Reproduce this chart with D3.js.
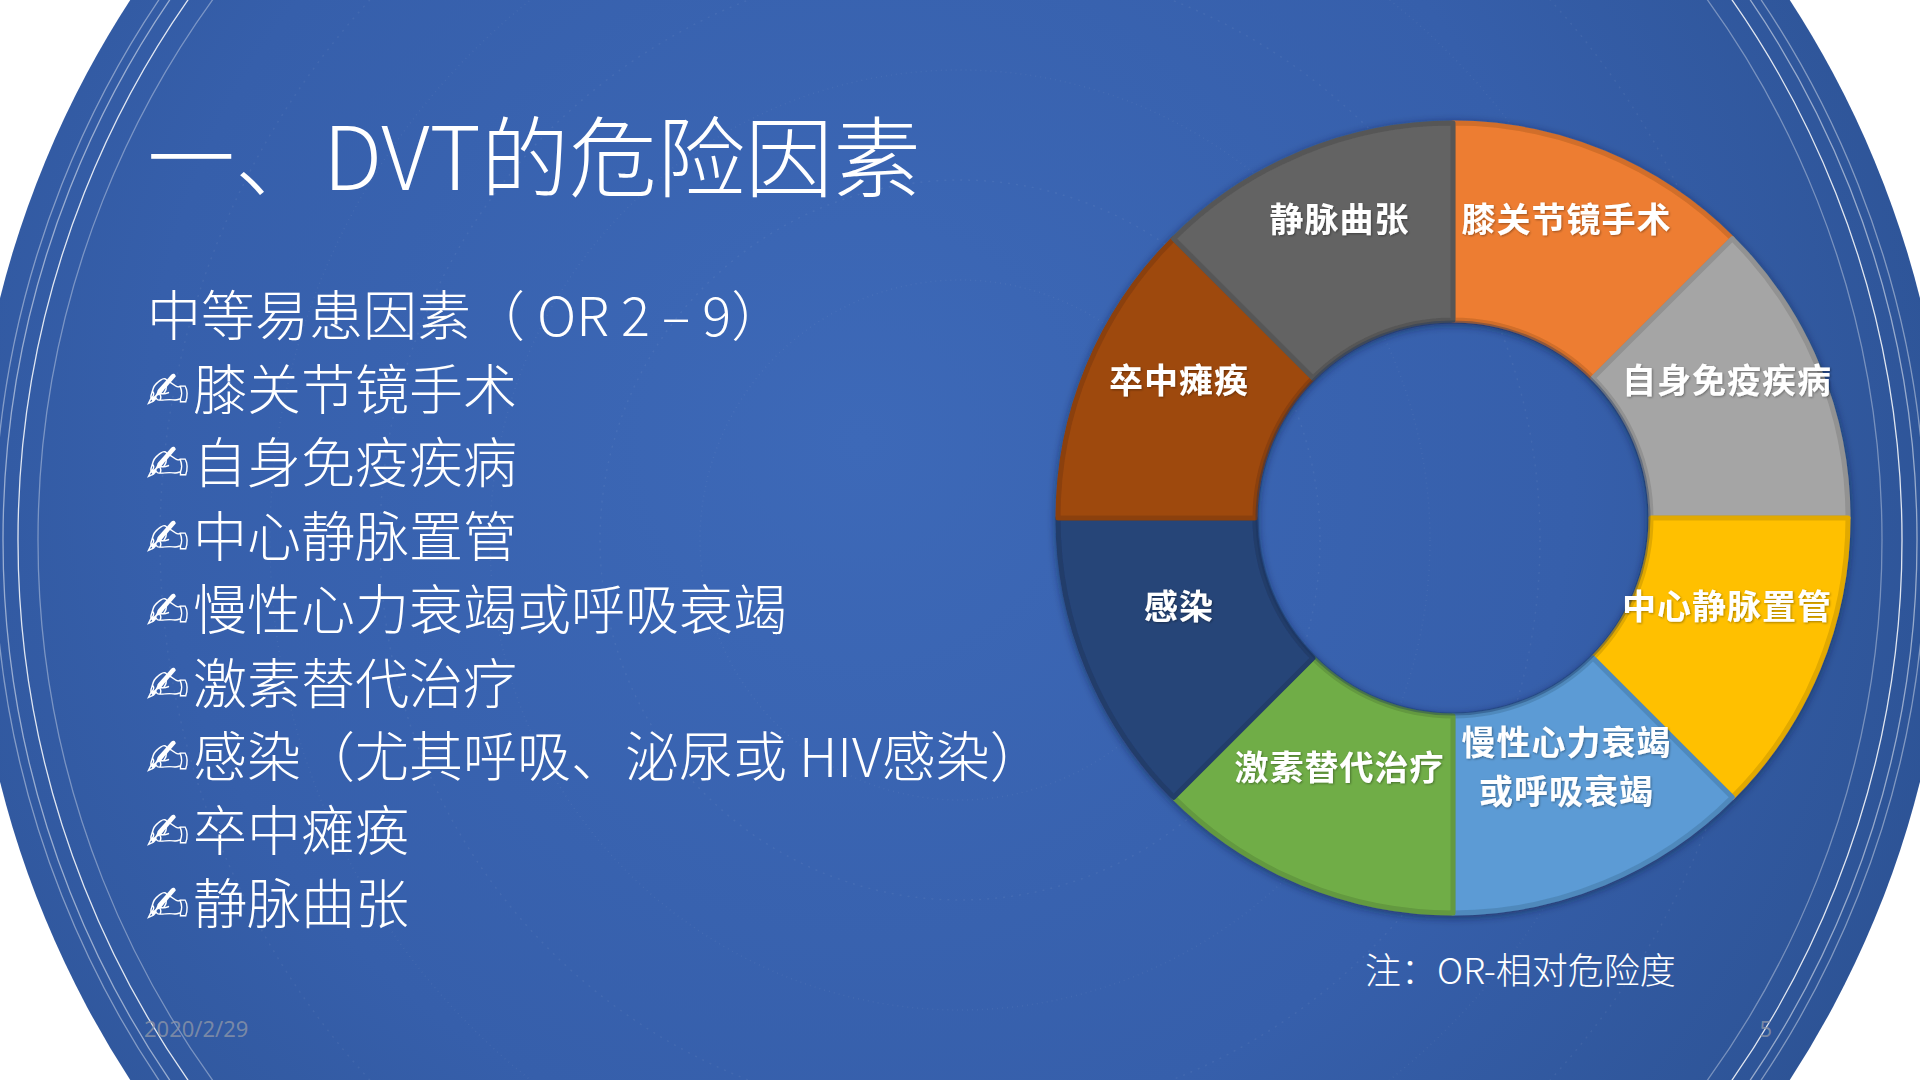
<!DOCTYPE html>
<html>
<head>
<meta charset="utf-8">
<script src="https://cdn.jsdelivr.net/npm/d3@7"></script>
<style>
  html, body { margin: 0; padding: 0; background: #fff; overflow: hidden; }
  svg { display: block; }
</style>
</head>
<body>
<div id="slide"></div>
<script>
// chart data
const factors = ['膝关节镜手术', '自身免疫疾病', '中心静脉置管', '慢性心力衰竭或呼吸衰竭',
                 '激素替代治疗', '感染', '卒中瘫痪', '静脉曲张'];
const factorLabels = [['膝关节镜手术'], ['自身免疫疾病'], ['中心静脉置管'], ['慢性心力衰竭', '或呼吸衰竭'],
                      ['激素替代治疗'], ['感染'], ['卒中瘫痪'], ['静脉曲张']];
const shares = [1, 1, 1, 1, 1, 1, 1, 1];
const sliceColors = ['#ED7D31', '#A5A5A5', '#FFC000', '#5B9BD5', '#70AD47', '#264478', '#9E480E', '#636363'];

const titleText = '一、DVT的危险因素';
const subTitle = '中等易患因素（ OR 2 – 9）';
const bulletItems = ['膝关节镜手术', '自身免疫疾病', '中心静脉置管', '慢性心力衰竭或呼吸衰竭',
                     '激素替代治疗', '感染（尤其呼吸、泌尿或 HIV感染）', '卒中瘫痪', '静脉曲张'];
const noteText = '注：OR-相对危险度';
const dateText = '2020/2/29';
const pageNo = '5';

const W = 1920, H = 1080;
const cx = 1453, cy = 518, rOuter = 395, rInner = 198;

const svg = d3.select('#slide').append('svg')
  .attr('width', W)
  .attr('height', H);

const defs = svg.append('defs');

const bg = defs.append('radialGradient')
  .attr('id', 'bgGrad')
  .attr('cx', '0.45').attr('cy', '0.45').attr('r', '0.6');
bg.append('stop').attr('offset', '0%').attr('stop-color', '#3d69b8');
bg.append('stop').attr('offset', '60%').attr('stop-color', '#365fab');
bg.append('stop').attr('offset', '100%').attr('stop-color', '#2c5293');

const shadow = defs.append('filter')
  .attr('id', 'ringShadow')
  .attr('x', '-10%').attr('y', '-10%').attr('width', '120%').attr('height', '120%');
shadow.append('feDropShadow')
  .attr('dx', 0).attr('dy', 2)
  .attr('stdDeviation', 4)
  .attr('flood-color', '#0d1e3d')
  .attr('flood-opacity', 0.6);

const textShadow = defs.append('filter').attr('id', 'txtShadow');
textShadow.append('feDropShadow')
  .attr('dx', 1).attr('dy', 1)
  .attr('stdDeviation', 1)
  .attr('flood-color', '#000')
  .attr('flood-opacity', 0.35);

// background disc
const bgR = 990;
svg.append('circle')
  .attr('cx', W / 2).attr('cy', H / 2)
  .attr('r', bgR)
  .attr('fill', 'url(#bgGrad)');

// faint dotted rings inside the disc
[260, 360, 470, 580, 690, 800].forEach((r, i) => {
  svg.append('circle')
    .attr('cx', W / 2).attr('cy', H / 2).attr('r', r)
    .attr('fill', 'none')
    .attr('stroke', '#ffffff')
    .attr('stroke-opacity', 0.06)
    .attr('stroke-width', 1.5)
    .attr('stroke-dasharray', i % 2 ? '2 6' : '1 4');
});

// thin white arcs near the rim
[[922, 0.35], [942, 0.85], [957, 0.5], [966, 0.4]].forEach(([r, op]) => {
  svg.append('circle')
    .attr('cx', W / 2).attr('cy', H / 2).attr('r', r)
    .attr('fill', 'none')
    .attr('stroke', '#ffffff')
    .attr('stroke-opacity', op)
    .attr('stroke-width', 1.3);
});

// title and bullet text
const fontCn = '"Noto Sans CJK SC", "Noto Sans", sans-serif';

svg.append('text')
  .attr('x', 147).attr('y', 190)
  .attr('font-family', fontCn)
  .attr('font-weight', 300)
  .attr('font-size', 88)
  .attr('fill', '#ffffff')
  .text(titleText);

svg.append('text')
  .attr('x', 147).attr('y', 336)
  .attr('font-family', fontCn)
  .attr('font-weight', 300)
  .attr('font-size', 54)
  .attr('fill', '#ffffff')
  .text(subTitle);

const lineY = d3.scaleLinear()
  .domain([0, bulletItems.length - 1])
  .range([409.5, 924]);

const bulletRows = svg.append('g').selectAll('g')
  .data(bulletItems)
  .enter().append('g')
  .attr('transform', (d, i) => `translate(0,${lineY(i)})`);

// writing-hand marker, forced to text presentation
bulletRows.append('text')
  .attr('x', 146)
  .attr('y', -1)
  .attr('font-family', '"DejaVu Sans"')
  .attr('font-size', 52)
  .attr('fill', '#ffffff')
  .text('\u270D\uFE0E');

bulletRows.append('text')
  .attr('x', 193)
  .attr('font-family', fontCn)
  .attr('font-weight', 300)
  .attr('font-size', 54)
  .attr('fill', '#ffffff')
  .text(d => d);

// donut
const pie = d3.pie().sort(null).value(d => d)
  .startAngle(0).endAngle(2 * Math.PI);
const arc = d3.arc().innerRadius(rInner).outerRadius(rOuter);
const labelArc = d3.arc().innerRadius((rInner + rOuter) / 2).outerRadius((rInner + rOuter) / 2);

const ring = svg.append('g')
  .attr('transform', `translate(${cx},${cy})`);

ring.append('g')
  .attr('filter', 'url(#ringShadow)')
  .selectAll('path')
  .data(pie(shares))
  .enter().append('path')
  .attr('d', arc)
  .attr('fill', (d, i) => sliceColors[i])
  .attr('stroke', (d, i) => d3.color(sliceColors[i]).darker(0.35))
  .attr('stroke-width', 5)
  .attr('stroke-linejoin', 'round');

// inner hole rim shadow
ring.append('circle')
  .attr('r', rInner - 2)
  .attr('fill', 'none')
  .attr('stroke', '#17305c')
  .attr('stroke-opacity', 0.35)
  .attr('stroke-width', 3);

const labels = ring.append('g')
  .selectAll('text')
  .data(pie(shares))
  .enter().append('text')
  .attr('transform', d => {
    const [x, y] = labelArc.centroid(d);
    return `translate(${x},${y - 24})`;
  })
  .attr('text-anchor', 'middle')
  .attr('font-family', fontCn)
  .attr('font-weight', 700)
  .attr('font-size', 34)
  .attr('letter-spacing', 1)
  .attr('fill', '#ffffff')
  .attr('filter', 'url(#txtShadow)');

labels.each(function(d, i) {
  const lines = factorLabels[i];
  const el = d3.select(this);
  lines.forEach((ln, j) => {
    el.append('tspan')
      .attr('x', 0)
      .attr('y', (j - (lines.length - 1) / 2) * 49 + 12)
      .text(ln);
  });
});

// note and footer
svg.append('text')
  .attr('x', 1365).attr('y', 984)
  .attr('font-family', fontCn)
  .attr('font-weight', 300)
  .attr('font-size', 36)
  .attr('fill', '#ffffff')
  .text(noteText);

svg.append('text')
  .attr('x', 144).attr('y', 1037)
  .attr('font-family', '"Noto Sans", sans-serif')
  .attr('font-size', 22)
  .attr('fill', '#8c95a8')
  .attr('fill-opacity', 0.8)
  .text(dateText);

svg.append('text')
  .attr('x', 1772).attr('y', 1037)
  .attr('text-anchor', 'end')
  .attr('font-family', '"Noto Sans", sans-serif')
  .attr('font-size', 22)
  .attr('fill', '#8c95a8')
  .attr('fill-opacity', 0.8)
  .text(pageNo);
</script>
</body>
</html>
